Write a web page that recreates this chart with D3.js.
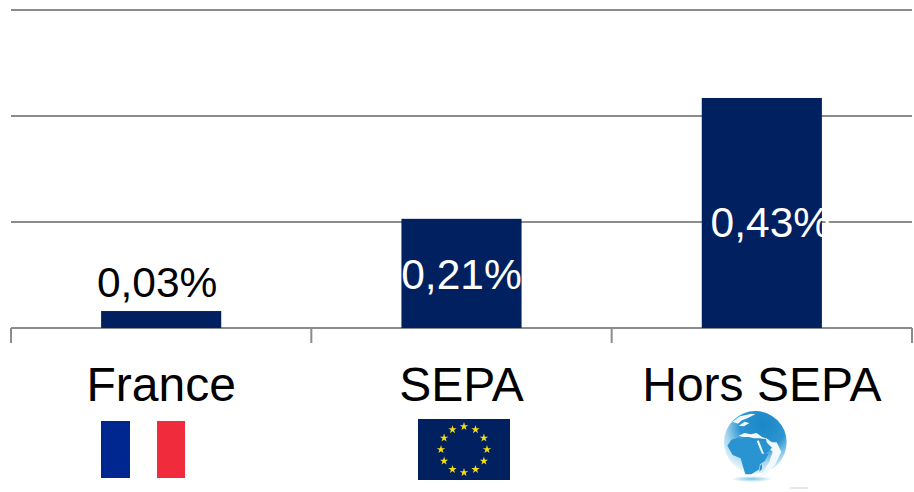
<!DOCTYPE html>
<html><head><meta charset="utf-8">
<script src="https://cdn.jsdelivr.net/npm/d3@7/dist/d3.min.js"></script>
<style>html,body{margin:0;padding:0;background:#fff}svg{display:block}text{font-family:"Liberation Sans",Arial,sans-serif}</style>
</head><body><svg id="c" width="914" height="492"></svg>
<script>
const categories = ["France","SEPA","Hors SEPA"];
const values = [0.032,0.206,0.434];
const yTicks = [0,0.2,0.4,0.6];
const labelColors = ["#000","#fff","#fff"];
const starAngles = d3.range(12);

const svg = d3.select("#c");
const x = d3.scaleBand().domain(categories).range([11,912]).paddingInner(0).paddingOuter(0);
const y = d3.scaleLinear().domain([0,0.6]).range([328,10]);
const fmt = v => d3.format(".2f")(v).replace(".",",")+"%";
const grey = "#8c8c8c";

svg.append("g").selectAll("line").data(yTicks).join("line")
  .attr("x1",11).attr("x2",912).attr("y1",d=>y(d)).attr("y2",d=>y(d))
  .attr("stroke",grey).attr("stroke-width",2);

const bw = x.bandwidth()*0.4;
svg.append("g").selectAll("rect").data(values).join("rect")
  .attr("x",(d,i)=>x(categories[i])+x.bandwidth()/2-bw/2)
  .attr("y",d=>y(d)).attr("width",bw).attr("height",d=>y(0)-y(d)).attr("fill","#002060");

const edges = categories.map(c=>x(c)).concat([x.range()[1]]);
svg.append("g").selectAll("line").data(edges).join("line")
  .attr("x1",d=>d).attr("x2",d=>d).attr("y1",328).attr("y2",343)
  .attr("stroke",grey).attr("stroke-width",2);

const labelDx = [-4,0,9];
const labelDy = [-14,16,24];
svg.append("g").selectAll("text").data(values).join("text")
  .attr("x",(d,i)=>x(categories[i])+x.bandwidth()/2+labelDx[i])
  .attr("y",(d,i)=>(i===0?y(d):(y(d)+y(0))/2)+labelDy[i])
  .attr("text-anchor","middle").attr("font-size",42.5)
  .attr("fill",(d,i)=>labelColors[i]).text(fmt);

svg.append("g").selectAll("text").data(categories).join("text")
  .attr("x",c=>x(c)+x.bandwidth()/2)
  .attr("y",401).attr("text-anchor","middle").attr("font-size",48).attr("fill","#000").text(c=>c);

const fr = svg.append("g");
fr.append("rect").attr("x",101).attr("y",421).attr("width",29).attr("height",57).attr("fill","#00268f");
fr.append("rect").attr("x",157).attr("y",421).attr("width",28).attr("height",57).attr("fill","#ef2b3c");

const eu = svg.append("g");
eu.append("rect").attr("x",418).attr("y",419).attr("width",92).attr("height",61).attr("fill","#002060");
const star = d3.symbol().type(d3.symbolStar).size(22);
eu.selectAll("path").data(starAngles).join("path")
  .attr("d",star)
  .attr("transform",d=>{const a=d*Math.PI/6;return `translate(${464+23*Math.sin(a)},${449.5-23*Math.cos(a)})`;})
  .attr("fill","#f2dc12");

const defs = svg.append("defs");
const g1 = defs.append("radialGradient").attr("id","gl").attr("cx","0.62").attr("cy","0.22").attr("r","0.88");
[[0,"#1b86c6"],[0.42,"#2c95d1"],[0.68,"#a6d6ee"],[0.9,"#e8f5fb"],[1,"#f8fcfe"]].forEach(s=>g1.append("stop").attr("offset",s[0]).attr("stop-color",s[1]));
const g2 = defs.append("radialGradient").attr("id","sh");
[[0,"#7cc3e8"],[1,"#ffffff"]].forEach(s=>g2.append("stop").attr("offset",s[0]).attr("stop-color",s[1]));
const gl = svg.append("g").attr("transform","translate(710,405) scale(0.3333)");
gl.append("ellipse").attr("cx",125).attr("cy",222).attr("rx",62).attr("ry",9).attr("fill","url(#sh)");
gl.append("circle").attr("cx",136).attr("cy",112).attr("r",94).attr("fill","url(#gl)");
const land = "#2a94d2", pale = "#f1f9fd";
gl.append("path").attr("fill",pale).attr("d","M68,50 L90,34 L125,26 L136,28 L112,40 L96,46 L84,56 Z");
gl.append("path").attr("fill",pale).attr("d","M86,62 L104,50 L118,54 L102,64 Z");
gl.append("path").attr("fill",pale).attr("d","M86,92 L104,84 L122,88 L140,84 L156,96 L178,104 L150,100 L132,100 L116,96 L98,96 Z");
gl.append("path").attr("fill",pale).attr("d","M168,100 L186,112 L200,112 L214,140 L196,178 L172,206 L150,215 L178,170 L188,140 L172,126 Z");
gl.append("path").attr("fill",land)
  .attr("d","M52,122 L64,104 L84,98 L100,102 L112,110 L134,108 L144,126 L156,146 L176,146 L164,168 L150,178 L146,194 L124,208 L106,208 L100,188 L92,160 L68,150 Z");
gl.append("path").attr("fill",land).attr("d","M142,106 L168,110 L186,128 L166,148 L156,140 Z");
gl.append("path").attr("fill",pale).attr("d","M140,108 L146,106 L162,146 L156,146 Z");
gl.append("path").attr("fill",land).attr("d","M150,184 L156,176 L156,192 L148,200 Z");
svg.append("line").attr("x1",790).attr("x2",808).attr("y1",488).attr("y2",488).attr("stroke","#d0d0d0").attr("stroke-width",1);
</script></body></html>
